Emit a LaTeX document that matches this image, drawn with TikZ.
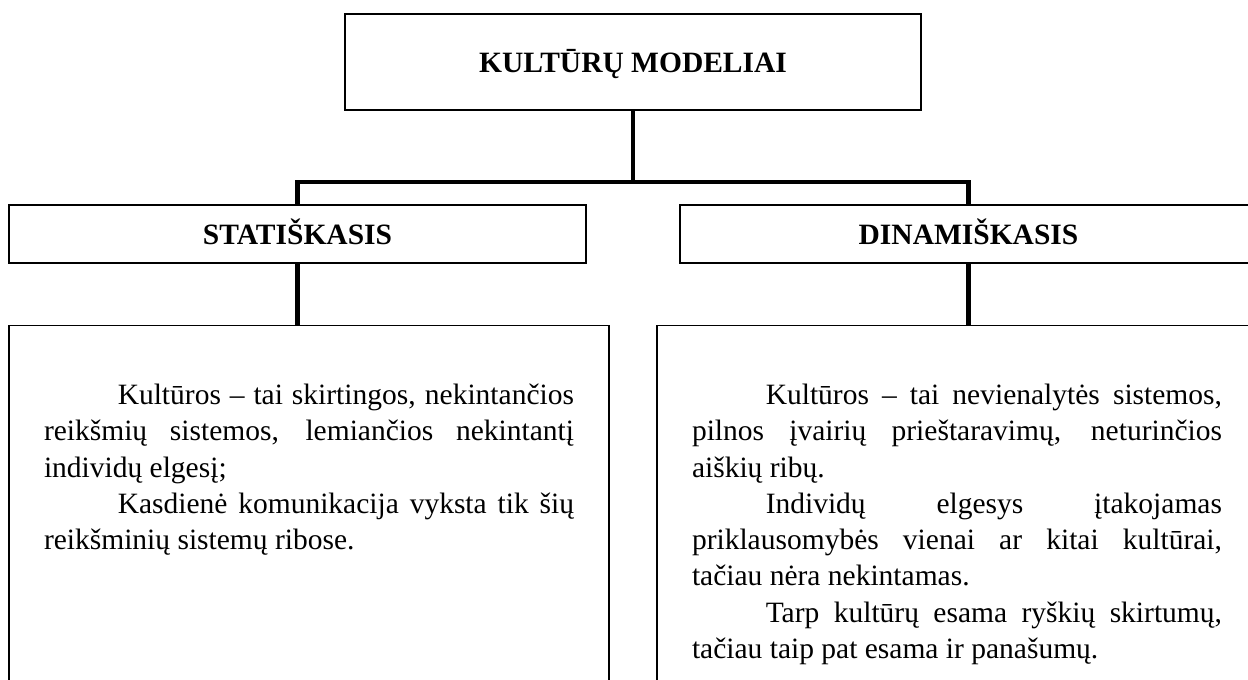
\documentclass[tikz,border=0pt]{standalone}
\usepackage{fontspec}
\setmainfont{Liberation Serif}
\tolerance=10000
\hbadness=10000
\hyphenpenalty=10000
\tikzstyle{titlebox}=[%
  draw,
  line width=0.6pt,
  minimum width=234.3pt,
  minimum height=39.1pt,
  font=\fontsize{12}{14}\selectfont\bfseries,
  text height=8.5pt,
  text depth=0pt
]
\tikzstyle{headbox}=[%
  titlebox,
  minimum width=234.7pt,
  minimum height=23.6pt
]
\tikzstyle{textbox}=[%
  draw,
  line width=0.6pt,
  anchor=north,
  inner xsep=14.25pt,
  inner ysep=0pt,
  text width=215.6pt,
  align=justify,
  text height=32.1pt,
  text depth=130pt,
  font=\fontsize{12}{14.75}\selectfont
]
\tikzstyle{conn}=[line width=2pt, line join=miter]

\begin{document}
\begin{tikzpicture}[x=0.4068pt, y=-0.4068pt]
    \useasboundingbox (0, 0) rectangle (1248, 680);
    \clip (0, 0) rectangle (1248, 680);

    \node[titlebox] (top) at (633, 62) {KULTŪRŲ MODELIAI};
    \node[headbox] (stat) at (297.5, 234) {STATIŠKASIS};
    \node[headbox] (dyn) at (968.5, 234) {DINAMIŠKASIS};

    \node[textbox] (statbox) at (309, 325) {%
      \hspace*{30pt}Kultūros – tai skirtingos, nekintančios\linebreak
      reikšmių sistemos, lemiančios nekintantį\linebreak
      individų elgesį;\par
      \hspace*{30pt}Kasdienė komunikacija vyksta tik šių\linebreak
      reikšminių sistemų ribose.};
    \node[textbox] (dynbox) at (957, 325) {%
      \hspace*{30pt}Kultūros – tai nevienalytės sistemos,\linebreak
      pilnos įvairių prieštaravimų, neturinčios\linebreak
      aiškių ribų.\par
      \hspace*{30pt}Individų elgesys įtakojamas\linebreak
      priklausomybės vienai ar kitai kultūrai,\linebreak
      tačiau nėra nekintamas.\par
      \hspace*{30pt}Tarp kultūrų esama ryškių skirtumų,\linebreak
      tačiau taip pat esama ir panašumų.};

    \coordinate (fork) at (633, 182);
    \draw[conn] (top.south) -- (fork);
    \draw[conn] (stat.north) |- (fork) -| (dyn.north);

    \foreach \h/\b in {stat/statbox, dyn/dynbox} {%
      \draw[conn] (\h.south) -- (\h.south |- \b.north);
    }
\end{tikzpicture}
\end{document}
